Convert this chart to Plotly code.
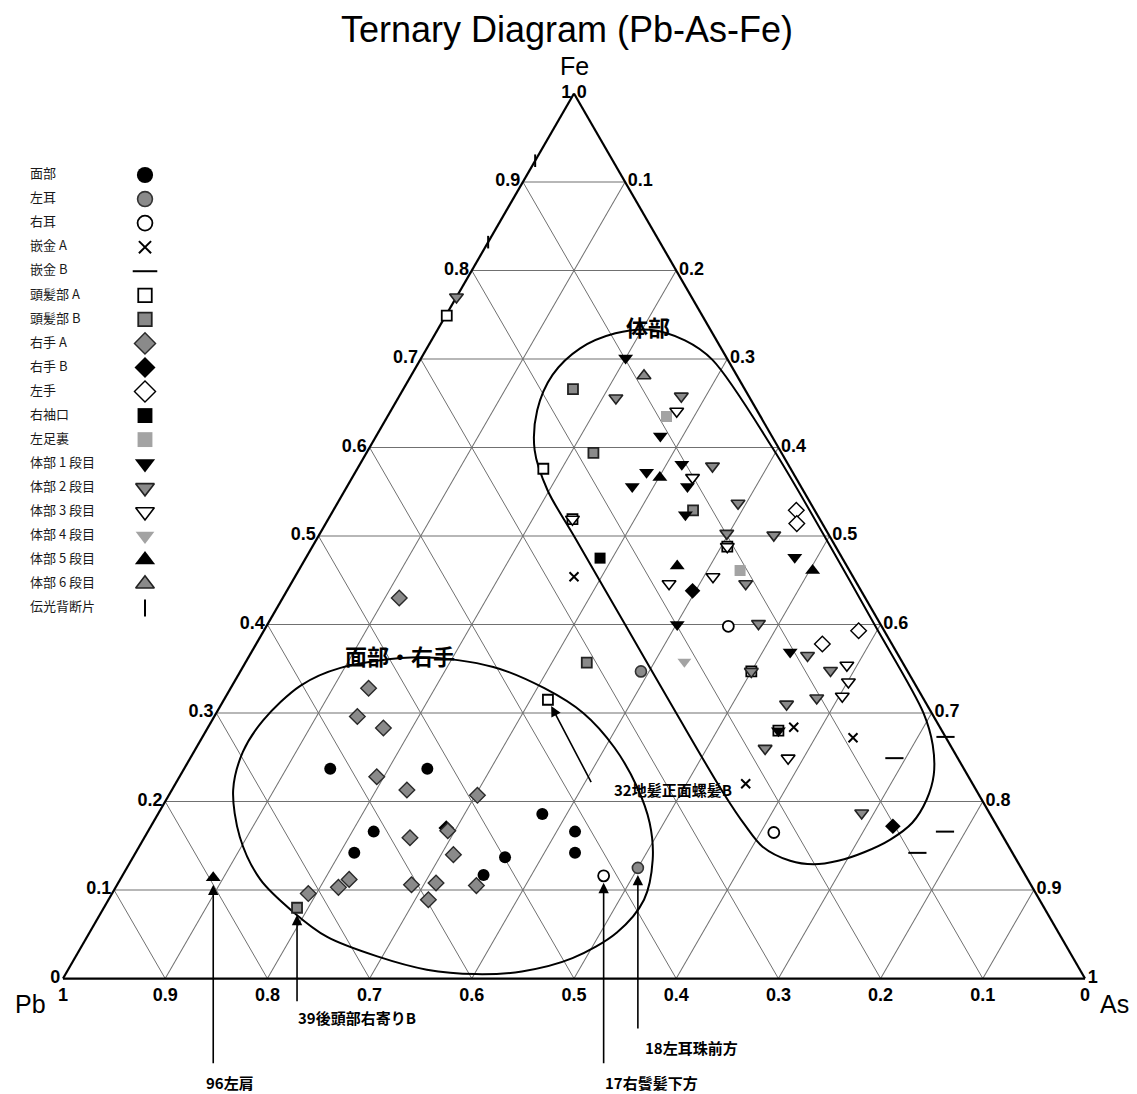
import plotly.graph_objects as go

W, H = 1137, 1094

# ---------------- sample compositions (fractions of Fe, As, Pb) ----------------
menbu_fe = [0.237, 0.237, 0.166, 0.142, 0.186, 0.166, 0.142, 0.137, 0.117]
menbu_as = [0.143, 0.238, 0.221, 0.214, 0.376, 0.418, 0.430, 0.364, 0.353]
menbu_pb = [0.620, 0.525, 0.613, 0.644, 0.438, 0.416, 0.428, 0.499, 0.530]

hidarimimi_fe = [0.347, 0.125]
hidarimimi_as = [0.392, 0.500]
hidarimimi_pb = [0.261, 0.375]

migimimi_fe = [0.398, 0.116, 0.165]
migimimi_as = [0.452, 0.471, 0.613]
migimimi_pb = [0.150, 0.413, 0.222]

zogan_a_fe = [0.454, 0.284, 0.272, 0.220]
zogan_a_as = [0.273, 0.573, 0.637, 0.558]
zogan_a_pb = [0.273, 0.143, 0.091, 0.222]

zogan_b_fe = [0.273, 0.249, 0.166, 0.142]
zogan_b_as = [0.727, 0.689, 0.780, 0.765]
zogan_b_pb = [0.000, 0.062, 0.054, 0.093]

tohatsu_a_fe = [0.749, 0.576, 0.519, 0.315, 0.488, 0.347, 0.280]
tohatsu_a_as = [0.001, 0.182, 0.239, 0.317, 0.406, 0.500, 0.560]
tohatsu_a_pb = [0.250, 0.242, 0.242, 0.368, 0.106, 0.153, 0.160]

tohatsu_b_fe = [0.666, 0.594, 0.529, 0.357, 0.080]
tohatsu_b_as = [0.166, 0.222, 0.352, 0.334, 0.189]
tohatsu_b_pb = [0.168, 0.184, 0.119, 0.309, 0.731]

migite_a_fe = [0.430, 0.328, 0.296, 0.283, 0.228, 0.213, 0.207, 0.159, 0.167,
               0.140, 0.112, 0.103, 0.096, 0.106, 0.108, 0.089, 0.105]
migite_a_as = [0.114, 0.135, 0.140, 0.172, 0.193, 0.230, 0.302, 0.260, 0.293,
               0.312, 0.224, 0.218, 0.192, 0.288, 0.311, 0.313, 0.352]
migite_a_pb = [0.456, 0.537, 0.564, 0.545, 0.579, 0.557, 0.491, 0.581, 0.540,
               0.548, 0.664, 0.679, 0.712, 0.606, 0.581, 0.598, 0.543]

migite_b_fe = [0.438, 0.172, 0.170]
migite_b_as = [0.397, 0.726, 0.290]
migite_b_pb = [0.165, 0.102, 0.540]

hidarite_fe = [0.529, 0.514, 0.393, 0.378]
hidarite_as = [0.453, 0.461, 0.582, 0.554]
hidarite_pb = [0.018, 0.025, 0.025, 0.068]

sodeguchi_fe = [0.475]
sodeguchi_as = [0.288]
sodeguchi_pb = [0.237]

ashiura_fe = [0.635, 0.461]
ashiura_as = [0.273, 0.432]
ashiura_pb = [0.092, 0.107]

tai1_fe = [0.701, 0.613, 0.572, 0.556, 0.581, 0.556, 0.524, 0.476, 0.369, 0.400, 0.280]
tai1_as = [0.200, 0.278, 0.285, 0.279, 0.315, 0.333, 0.347, 0.478, 0.527, 0.401, 0.560]
tai1_pb = [0.099, 0.109, 0.143, 0.165, 0.104, 0.111, 0.129, 0.046, 0.104, 0.199, 0.160]

tai2_fe = [0.770, 0.656, 0.658, 0.579, 0.537, 0.503, 0.501, 0.446, 0.401, 0.365,
           0.348, 0.317, 0.310, 0.260, 0.187, 0.347]
tai2_as = [0.000, 0.213, 0.276, 0.346, 0.392, 0.398, 0.445, 0.445, 0.480, 0.546,
           0.577, 0.579, 0.553, 0.557, 0.688, 0.500]
tai2_pb = [0.230, 0.131, 0.066, 0.075, 0.071, 0.099, 0.054, 0.109, 0.119, 0.089,
           0.075, 0.104, 0.137, 0.183, 0.125, 0.153]

tai3_fe = [0.641, 0.566, 0.446, 0.454, 0.354, 0.335, 0.319, 0.249, 0.488, 0.519]
tai3_as = [0.280, 0.333, 0.370, 0.409, 0.590, 0.601, 0.603, 0.585, 0.406, 0.239]
tai3_pb = [0.079, 0.101, 0.184, 0.137, 0.056, 0.064, 0.078, 0.166, 0.106, 0.242]

tai4_fe = [0.358]
tai4_as = [0.429]
tai4_pb = [0.213]

tai5_fe = [0.566, 0.466, 0.461, 0.114]
tai5_as = [0.301, 0.368, 0.503, 0.090]
tai5_pb = [0.133, 0.166, 0.036, 0.796]

tai6_fe = [0.681]
tai6_as = [0.228]
tai6_pb = [0.091]

kohai_fe = [0.924, 0.832]
kohai_as = [0.000, 0.000]
kohai_pb = [0.076, 0.168]

# ---------------- grouping outlines (vertices, Fe / As / Pb) ----------------
face_zone_fe = [0.213, 0.256, 0.292, 0.331, 0.351, 0.363, 0.352, 0.328, 0.300, 0.261,
                0.217, 0.176, 0.134, 0.089, 0.052, 0.023, 0.008, 0.005, 0.010, 0.025,
                0.047, 0.075, 0.112, 0.160, 0.213]
face_zone_as = [0.060, 0.048, 0.050, 0.067, 0.096, 0.168, 0.245, 0.307, 0.359, 0.409,
                0.453, 0.486, 0.510, 0.524, 0.516, 0.487, 0.445, 0.401, 0.351, 0.295,
                0.235, 0.188, 0.137, 0.093, 0.060]
face_zone_pb = [0.727, 0.696, 0.658, 0.602, 0.553, 0.469, 0.403, 0.365, 0.341, 0.330,
                0.330, 0.338, 0.356, 0.387, 0.432, 0.490, 0.547, 0.594, 0.639, 0.680,
                0.718, 0.737, 0.751, 0.747, 0.727]

body_zone_fe = [0.552, 0.597, 0.642, 0.682, 0.712, 0.729, 0.733, 0.721, 0.699,
                0.600, 0.500, 0.400, 0.300,
                0.264, 0.230, 0.202, 0.176, 0.157, 0.143, 0.133, 0.129, 0.133, 0.149,
                0.173, 0.210, 0.300, 0.400, 0.500, 0.552]
body_zone_as = [0.198, 0.163, 0.143, 0.138, 0.150, 0.176, 0.208, 0.248, 0.286,
                0.394, 0.495, 0.594, 0.692,
                0.719, 0.737, 0.744, 0.743, 0.731, 0.713, 0.692, 0.670, 0.645, 0.610,
                0.581, 0.541, 0.450, 0.350, 0.250, 0.198]
body_zone_pb = [0.250, 0.240, 0.215, 0.180, 0.138, 0.095, 0.059, 0.031, 0.015,
                0.006, 0.005, 0.006, 0.008,
                0.017, 0.033, 0.054, 0.081, 0.112, 0.144, 0.175, 0.201, 0.222, 0.241,
                0.246, 0.249, 0.250, 0.250, 0.250, 0.250]

legend_labels = ["面部", "左耳", "右耳", "嵌金 A", "嵌金 B", "頭髪部 A", "頭髪部 B",
                 "右手 A", "右手 B", "左手", "右袖口", "左足裏", "体部 1 段目",
                 "体部 2 段目", "体部 3 段目", "体部 4 段目", "体部 5 段目",
                 "体部 6 段目", "伝光背断片"]

GRAY = "#8a8a8a"
LIGHT = "#a3a3a3"

# marker style per group: (symbol, fill, outline colour, outline width, size)
styles = {
    "面部": ("circle", "black", "black", 0, 12),
    "左耳": ("circle", GRAY, "#333333", 1.6, 11),
    "右耳": ("circle", "white", "black", 1.8, 11),
    "嵌金 A": ("x-thin", "black", "black", 2, 9),
    "嵌金 B": ("line-ew", "black", "black", 2, 13),
    "頭髪部 A": ("square", "white", "black", 1.8, 10),
    "頭髪部 B": ("square", GRAY, "#222222", 1.8, 10),
    "右手 A": ("diamond", GRAY, "#2a2a2a", 1.4, 12),
    "右手 B": ("diamond", "black", "black", 0, 12),
    "左手": ("diamond", "white", "black", 1.4, 12),
    "右袖口": ("square", "black", "black", 0, 11),
    "左足裏": ("square", LIGHT, LIGHT, 0, 11),
    "体部 1 段目": ("triangle-down", "black", "black", 0, 13),
    "体部 2 段目": ("triangle-down", GRAY, "#222222", 1.6, 12),
    "体部 3 段目": ("triangle-down", "white", "black", 1.6, 12),
    "体部 4 段目": ("triangle-down", LIGHT, LIGHT, 0, 12),
    "体部 5 段目": ("triangle-up", "black", "black", 0, 13),
    "体部 6 段目": ("triangle-up", GRAY, "#222222", 1.6, 12),
    "伝光背断片": ("line-ns", "black", "black", 2, 9),
}

# drawing order: squares before triangles, dark diamond behind grey ones
series = [
    ("面部", menbu_fe, menbu_as, menbu_pb),
    ("左耳", hidarimimi_fe, hidarimimi_as, hidarimimi_pb),
    ("右耳", migimimi_fe, migimimi_as, migimimi_pb),
    ("嵌金 A", zogan_a_fe, zogan_a_as, zogan_a_pb),
    ("嵌金 B", zogan_b_fe, zogan_b_as, zogan_b_pb),
    ("頭髪部 A", tohatsu_a_fe, tohatsu_a_as, tohatsu_a_pb),
    ("頭髪部 B", tohatsu_b_fe, tohatsu_b_as, tohatsu_b_pb),
    ("右袖口", sodeguchi_fe, sodeguchi_as, sodeguchi_pb),
    ("左足裏", ashiura_fe, ashiura_as, ashiura_pb),
    ("右手 B", migite_b_fe, migite_b_as, migite_b_pb),
    ("右手 A", migite_a_fe, migite_a_as, migite_a_pb),
    ("左手", hidarite_fe, hidarite_as, hidarite_pb),
    ("体部 1 段目", tai1_fe, tai1_as, tai1_pb),
    ("体部 2 段目", tai2_fe, tai2_as, tai2_pb),
    ("体部 3 段目", tai3_fe, tai3_as, tai3_pb),
    ("体部 4 段目", tai4_fe, tai4_as, tai4_pb),
    ("体部 5 段目", tai5_fe, tai5_as, tai5_pb),
    ("体部 6 段目", tai6_fe, tai6_as, tai6_pb),
    ("伝光背断片", kohai_fe, kohai_as, kohai_pb),
]

# ---------------- layout geometry ----------------
TRI_X0, TRI_X1 = 63 / W, 1085 / W
TRI_Y0, TRI_Y1 = (H - 979) / H, (H - 93) / H
TRI_W_PX = (TRI_X1 - TRI_X0) * W
TRI_H_PX = TRI_W_PX * 3 ** 0.5 / 2
Y_MID_PX = (TRI_Y0 + TRI_Y1) / 2 * H


def to_paper(fe, as_):
    """Position of a composition on the ternary plot, in paper units."""
    px = TRI_X0 + (TRI_X1 - TRI_X0) * (as_ + fe / 2)
    py = (Y_MID_PX - TRI_H_PX / 2 + TRI_H_PX * fe) / H
    return px, py


def mstyle(name, scale=1.0):
    sym, fill, edge, lw, size = styles[name]
    return dict(symbol=sym, size=size * scale, color=fill,
                line=dict(color=edge, width=lw))


fig = go.Figure()

# grouping outlines
for zfe, zas, zpb in [(face_zone_fe, face_zone_as, face_zone_pb),
                      (body_zone_fe, body_zone_as, body_zone_pb)]:
    fig.add_trace(go.Scatterternary(
        a=zfe, b=zpb, c=zas, mode="lines",
        line=dict(color="black", width=2, shape="spline", smoothing=0.9),
        hoverinfo="skip", showlegend=False, cliponaxis=False))

# sample points
for name, sfe, sas, spb in series:
    fig.add_trace(go.Scatterternary(
        a=sfe, b=spb, c=sas, mode="markers", name=name,
        marker=mstyle(name), showlegend=False, cliponaxis=False))

# key on the left: labels and symbols
rows = list(range(len(legend_labels)))
fig.add_trace(go.Scatter(
    x=[0] * len(rows), y=rows, mode="text", text=legend_labels,
    textposition="middle right",
    textfont=dict(family="Noto Sans CJK JP", size=13, color="#1a1a1a"),
    xaxis="x", yaxis="y", showlegend=False, hoverinfo="skip", cliponaxis=False))
for i, name in enumerate(legend_labels):
    fig.add_trace(go.Scatter(
        x=[1], y=[i], mode="markers", marker=mstyle(name, 1.35),
        xaxis="x", yaxis="y", showlegend=False, hoverinfo="skip", cliponaxis=False))

tick_font = dict(family="Liberation Sans", size=18, color="black", weight="bold")
axis_common = dict(
    tickmode="linear", tick0=0, dtick=0.1, ticks="", showticklabels=True,
    showgrid=True, gridcolor="#707070", gridwidth=1.1,
    showline=True, linecolor="black", linewidth=2.2,
    tickfont=tick_font, title=dict(text=""), min=0, layer="below traces",
)

annotations = []


def add_text(text, px, py, size, bold=False, family="Noto Sans CJK JP", xanchor="center"):
    annotations.append(dict(
        text=text, x=px / W, y=1 - py / H, xref="paper", yref="paper",
        showarrow=False, xanchor=xanchor, yanchor="middle",
        font=dict(family=family, size=size, color="black",
                  weight="bold" if bold else "normal")))


add_text("Ternary Diagram (Pb-As-Fe)", 567, 30, 36, family="Liberation Sans")
add_text("Fe", 574, 66, 25, family="Liberation Sans")
add_text("Pb", 30, 1004, 25, family="Liberation Sans")
add_text("As", 1114, 1004, 25, family="Liberation Sans")
add_text("面部・右手", 400, 655, 22, bold=True)
add_text("体部", 648, 326, 22, bold=True)

# call-outs pointing at individual samples: (label, Fe, As, arrow tail dx/dy px, text dx/dy px)
callouts = [
    ("96左肩", tai5_fe[3], tai5_as[3], 0, 187, 17, -205),
    ("39後頭部右寄りB", tohatsu_b_fe[4], tohatsu_b_as[4], 0, 95, 60, -110),
    ("17右鬢髪下方", migimimi_fe[1], migimimi_as[1], 0, 189, 48, -207),
    ("18左耳珠前方", hidarimimi_fe[1], hidarimimi_as[1], 0, 162, 54, -180),
    ("32地髪正面螺髪B", tohatsu_a_fe[3], tohatsu_a_as[3], 44, 84, 125, -90),
]
for label, cfe, cas, ax, ay, tx, ty in callouts:
    px, py = to_paper(cfe, cas)
    annotations.append(dict(
        text="", x=px, y=py, xref="paper", yref="paper", showarrow=True,
        ax=ax, ay=ay, axref="pixel", ayref="pixel", arrowhead=2, arrowsize=1.3,
        arrowwidth=1.6, arrowcolor="black", standoff=7))
    annotations.append(dict(
        text=label, x=px, y=py, xref="paper", yref="paper", showarrow=False,
        xshift=tx, yshift=ty, xanchor="center", yanchor="middle",
        font=dict(family="Noto Sans CJK JP", size=15, color="black", weight="bold")))

fig.update_layout(
    width=W, height=H, margin=dict(l=0, r=0, t=0, b=0),
    paper_bgcolor="white", plot_bgcolor="rgba(0,0,0,0)",
    showlegend=False,
    ternary=dict(
        domain=dict(x=[TRI_X0, TRI_X1], y=[TRI_Y0, TRI_Y1]),
        sum=1, bgcolor="white",
        aaxis=axis_common, baxis=axis_common, caxis=axis_common,
    ),
    xaxis=dict(domain=[30 / W, 145 / W], range=[0, 1], visible=False, fixedrange=True),
    yaxis=dict(domain=[(H - 608) / H, (H - 175) / H], range=[18, 0], visible=False,
               fixedrange=True),
    annotations=annotations,
)

fig.write_html("out.html")
